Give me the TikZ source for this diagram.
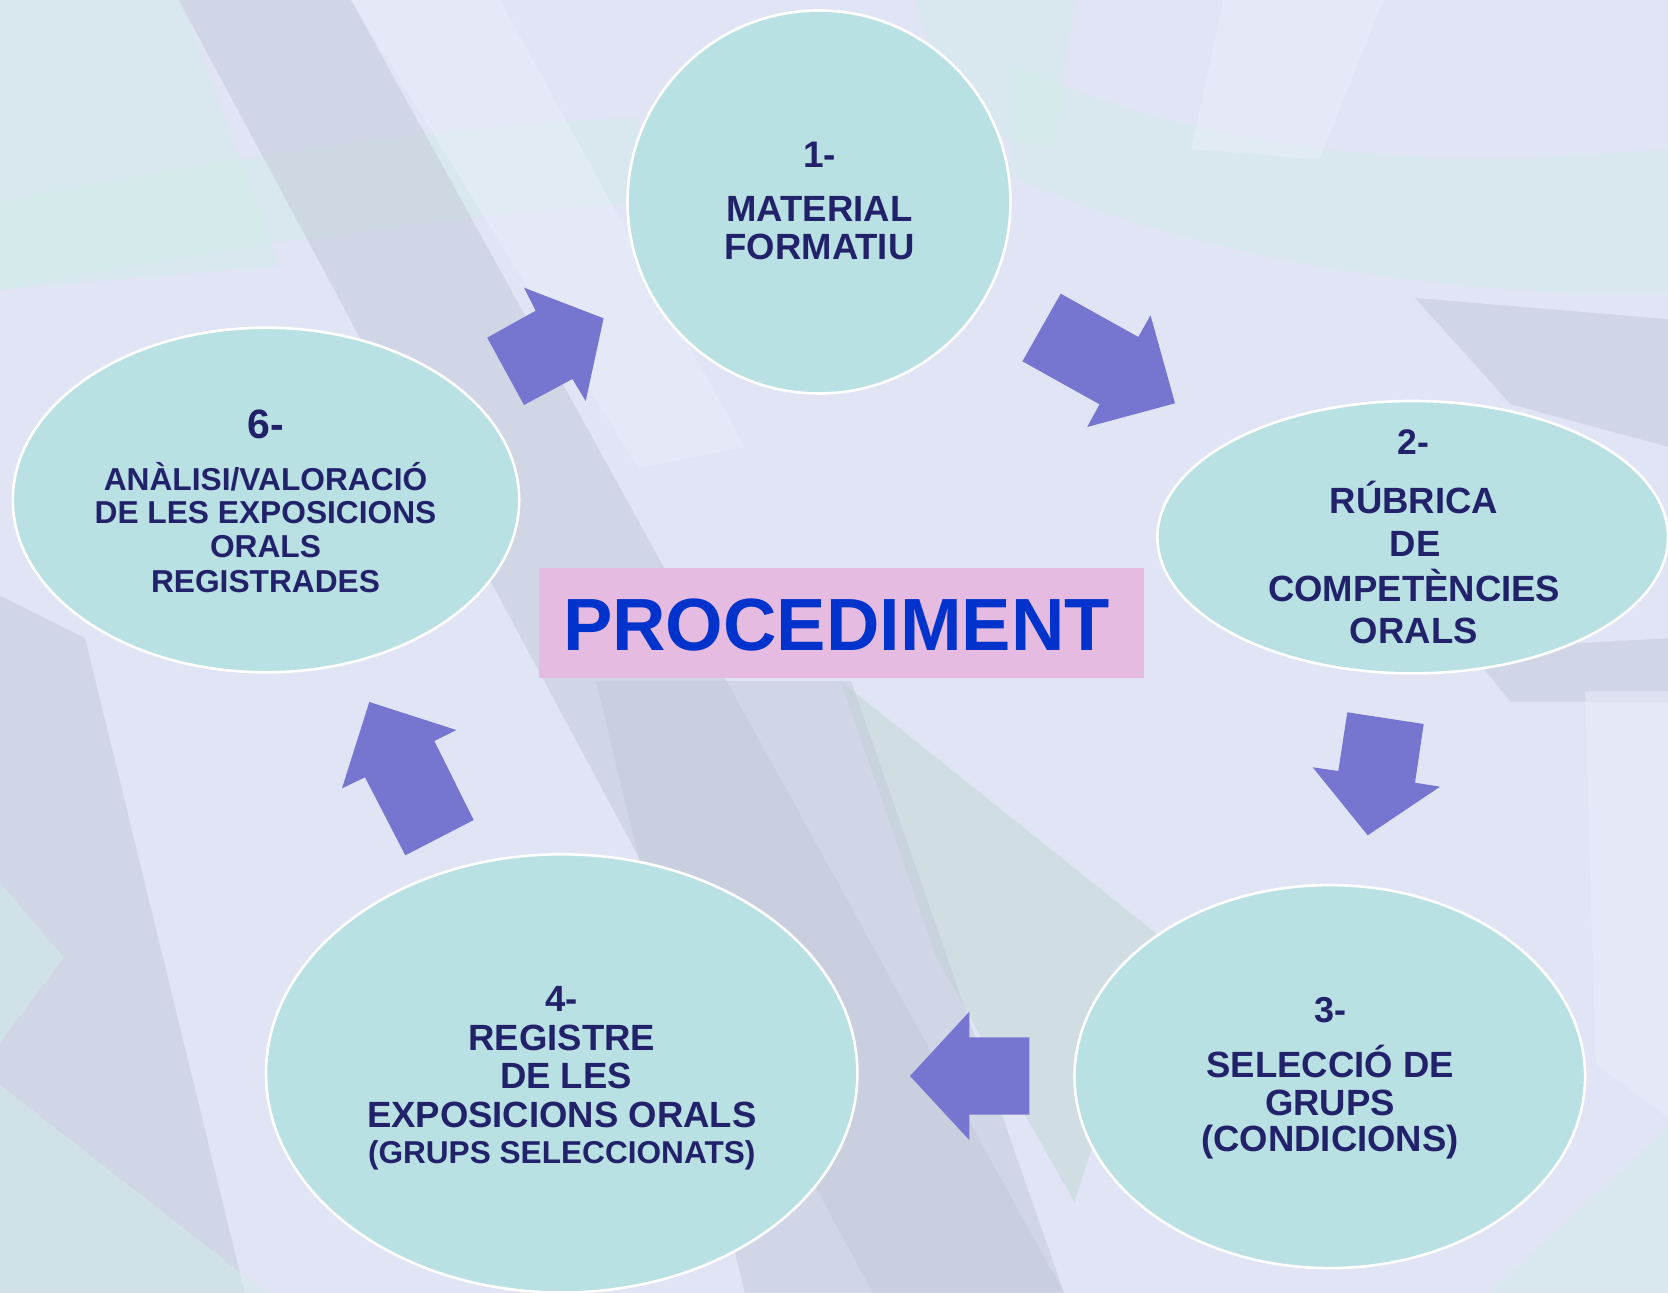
\documentclass[tikz,border=0pt]{standalone}
\usepackage{fontspec}
\setmainfont{Liberation Sans}
\usetikzlibrary{shapes.geometric}
\definecolor{bgbase}{HTML}{E0E4F4}
\definecolor{tealA}{HTML}{D2ECEA}
\definecolor{greyA}{HTML}{C4CADA}
\definecolor{greenG}{HTML}{C2D9D5}
\definecolor{lightL}{HTML}{EAEEFB}
\definecolor{ellfill}{HTML}{B9E0E2}
\definecolor{boxfill}{HTML}{E6BBE2}
\definecolor{txtc}{HTML}{22226B}
\definecolor{procblue}{HTML}{0033CC}
\definecolor{arrc}{HTML}{7676D1}
\newcommand\fz[1]{\fontsize{#1}{#1}\selectfont\bfseries}
\tikzset{
  ell/.style={ellipse, draw=white, line width=1.3pt, fill=ellfill, inner sep=0pt},
  lbl/.style={anchor=base, inner sep=0pt, text=txtc},
  blockarrow/.style={fill=arrc},
  band/.style={fill=#1, opacity=0.5},
}
\begin{document}
\begin{tikzpicture}[x=0.5pt,y=-0.5pt]
\useasboundingbox (0,0) rectangle (1668,1293);
\clip (0,0) rectangle (1668,1293);
% ---------------- background ----------------
\fill[bgbase] (0,0) rectangle (1668,1293);
\begin{scope}[scale=1.0638]
  \fill[band=tealA] (0,0) -- (170,0) -- (262,250) -- (0,272) -- cycle;
  \fill[band=tealA] (0,190) .. controls (200,150) and (400,120) .. (600,110) -- (600,190) .. controls (400,205) and (200,235) .. (0,272) -- cycle;
  \fill[band=greyA] (168,0) -- (330,0) -- (1000,1215) -- (820,1215) -- cycle;
  \fill[band=lightL] (330,0) -- (470,0) -- (700,420) -- (600,440) -- cycle;
  \fill[band=tealA] (860,0) -- (1010,0) -- (990,140) -- (900,120) -- cycle;
  \fill[band=tealA] (950,60) .. controls (1150,150) and (1350,160) .. (1568,140) -- (1568,275) .. controls (1350,282) and (1100,235) .. (950,165) -- cycle;
  \fill[band=lightL] (1150,0) -- (1300,0) -- (1240,150) -- (1120,140) -- cycle;
  \fill[band=greyA] (1330,280) -- (1568,300) -- (1568,420) -- (1420,380) -- cycle;
  \fill[band=greyA] (1380,610) -- (1568,600) -- (1568,660) -- (1420,660) -- cycle;
  \fill[band=greenG] (790,640) -- (1090,880) -- (1010,1130) -- (880,900) -- cycle;
  \fill[band=greyA] (560,640) -- (800,640) -- (1000,1215) -- (700,1215) -- cycle;
  \fill[band=greyA] (0,560) -- (80,600) -- (230,1215) -- (0,1215) -- cycle;
  \fill[band=tealA] (0,1020) -- (250,1215) -- (0,1215) -- cycle;
  \fill[band=tealA] (0,830) -- (60,900) -- (0,980) -- cycle;
  \fill[band=tealA] (1400,1215) -- (1568,1060) -- (1568,1215) -- cycle;
  \fill[band=lightL] (1490,650) -- (1568,650) -- (1568,1050) -- (1500,1000) -- cycle;
\end{scope}
% ---------------- block arrows ----------------
\fill[blockarrow] (1060.7,293.7) -- (1138.3,337) -- (1150.5,315.3) -- (1175,403.3) -- (1087.2,427) -- (1099.5,404.3) -- (1022.4,361.3) -- cycle;
\fill[blockarrow] (524,287.7) -- (603.6,318.3) -- (585.7,401) -- (572.4,379) -- (524,405) -- (487.2,337.7) -- (535.7,310.7) -- cycle;
\fill[blockarrow] (1347.3,712.3) -- (1423.7,724) -- (1415,782.7) -- (1440,786.7) -- (1367.7,835.3) -- (1312.7,767.3) -- (1338.3,771) -- cycle;
\fill[blockarrow] (969.3,1011.7) -- (969.3,1037.3) -- (1029.3,1037.3) -- (1029.3,1114.7) -- (969.3,1114.7) -- (969.3,1140) -- (910,1076) -- cycle;
\fill[blockarrow] (369.3,702) -- (456.3,730) -- (434.3,741) -- (473.7,820) -- (405.3,855.3) -- (365,777.3) -- (342,788.3) -- cycle;
% ---------------- ellipses ----------------
\node[ell, minimum width=191.5pt, minimum height=191.5pt] (e1) at (819,202) {};
\node[ell, minimum width=255.3pt, minimum height=136.2pt] (e2) at (1412.7,537.2) {};
\node[ell, minimum width=255.3pt, minimum height=191.5pt] (e3) at (1329.8,1076.6) {};
\node[ell, minimum width=295.7pt, minimum height=219.1pt] (e4) at (561.7,1073.4) {};
\node[ell, minimum width=253.2pt, minimum height=172.3pt] (e6) at (266,500) {};
% ---------------- centre box ----------------
\node[fill=boxfill, inner sep=0pt, minimum width=302.15pt, minimum height=54.8pt] (box) at (841.45,622.8) {};
\node[anchor=base, inner sep=0pt, text=procblue, font=\fz{37pt}] (proc) at (836.5,650) {PROCEDIMENT};
% ---------------- texts ----------------
% 1
\node[lbl, font=\fz{18.5pt}] (t1a) at (819.5,167.3) {1-};
\node[lbl, font=\fz{18.25pt}] (t1b) at (819.5,221.7) {MATERIAL};
\node[lbl, font=\fz{18.25pt}] (t1c) at (819.5,259.3) {FORMATIU};
% 2
\node[lbl, font=\fz{17.75pt}] (t2a) at (1413.3,455) {2-};
\node[lbl, font=\fz{18.25pt}] (t2b) at (1413.8,513.3) {RÚBRICA};
\node[lbl, font=\fz{18.25pt}] (t2c) at (1415,556.7) {DE};
\node[lbl, font=\fz{18.25pt}] (t2d) at (1414.2,601.7) {COMPETÈNCIES};
\node[lbl, font=\fz{18.25pt}] (t2e) at (1413.8,643.3) {ORALS};
% 3
\node[lbl, font=\fz{18pt}] (t3a) at (1330,1022.7) {3-};
\node[lbl, font=\fz{18.25pt}] (t3b) at (1330,1077.3) {SELECCIÓ DE};
\node[lbl, font=\fz{18.25pt}] (t3c) at (1330,1115) {GRUPS};
\node[lbl, font=\fz{18.25pt}] (t3d) at (1330,1151) {(CONDICIONS)};
% 4
\node[lbl, font=\fz{18.25pt}] (t4a) at (561.7,1011.7) {4-};
\node[lbl, font=\fz{18.25pt}] (t4b) at (561.7,1050) {REGISTRE};
\node[lbl, font=\fz{18.25pt}] (t4c) at (566,1088.3) {DE LES};
\node[lbl, font=\fz{18.25pt}] (t4d) at (561.7,1127.3) {EXPOSICIONS ORALS};
\node[lbl, font=\fz{15.8pt}] (t4e) at (561.7,1163.3) {(GRUPS SELECCIONATS)};
% 6
\node[lbl, font=\fz{20.5pt}] (t6a) at (265.5,439) {6-};
\node[lbl, font=\fz{15.85pt}] (t6b) at (265.5,491) {ANÀLISI/VALORACIÓ};
\node[lbl, font=\fz{15.85pt}] (t6c) at (265.5,523.5) {DE LES EXPOSICIONS};
\node[lbl, font=\fz{15.85pt}] (t6d) at (265.5,558) {ORALS};
\node[lbl, font=\fz{15.85pt}] (t6e) at (265.5,592) {REGISTRADES};
\end{tikzpicture}
\end{document}
